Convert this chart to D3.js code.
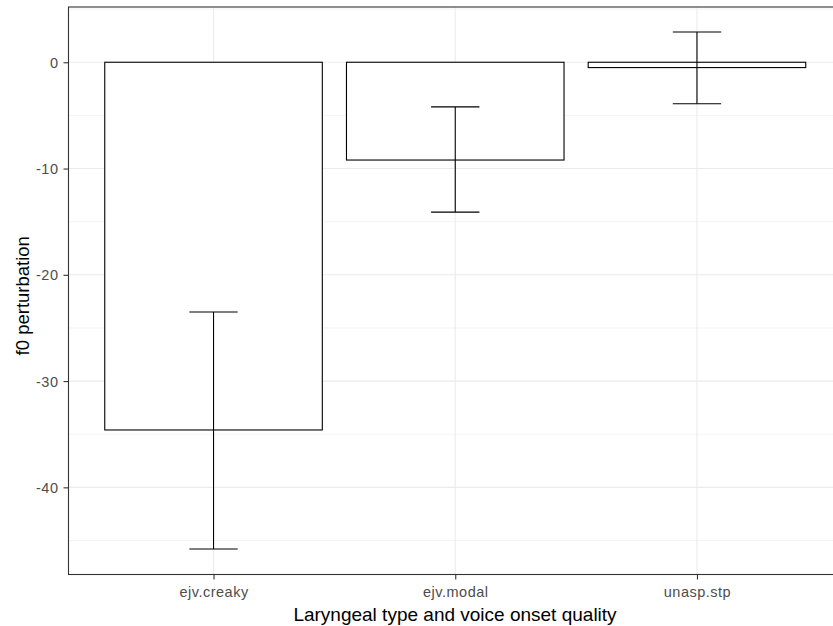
<!DOCTYPE html>
<html>
<head>
<meta charset="utf-8">
<script src="https://cdn.jsdelivr.net/npm/d3@7"></script>
<style>
  body { margin: 0; background: #fff; }
  svg { display: block; overflow: hidden; font-family: "Liberation Sans", Arial, sans-serif; }
</style>
</head>
<body>
<svg id="chart" width="833" height="626"></svg>
<script>
// categories and values
const categories = ["ejv.creaky", "ejv.modal", "unasp.stp"];
const means = [-34.6, -9.2, -0.5];
const lower = [-45.8, -14.1, -3.9];
const upper = [-23.5, -4.2, 2.85];
const yMajor = [0, -10, -20, -30, -40];
const yMinor = [5, -5, -15, -25, -35, -45];

const data = categories.map((c, i) => ({cat: c, mean: means[i], lo: lower[i], hi: upper[i]}));

const svg = d3.select("#chart");

// panel runs past the right edge of the picture (cropped)
const pLeft = 68.5, pRight = 842, pTop = 7, pBottom = 574.5;

const x = d3.scalePoint()
  .domain(categories)
  .range([pLeft, pRight])
  .padding(0.6);
const step = x.step();

const y = d3.scaleLinear()
  .domain([5.2, -48.2])
  .range([pTop, pBottom]);

// grid
const grid = svg.append("g");
grid.selectAll(".minor")
  .data(yMinor)
  .enter()
  .append("line")
  .attr("x1", pLeft).attr("x2", pRight)
  .attr("y1", d => y(d)).attr("y2", d => y(d))
  .style("stroke", "#ebebeb")
  .style("stroke-width", 0.6);
grid.selectAll(".major")
  .data(yMajor)
  .enter()
  .append("line")
  .attr("x1", pLeft).attr("x2", pRight)
  .attr("y1", d => y(d)).attr("y2", d => y(d))
  .style("stroke", "#ebebeb")
  .style("stroke-width", 1.1);
grid.selectAll(".vmajor")
  .data(categories)
  .enter()
  .append("line")
  .attr("x1", d => x(d)).attr("x2", d => x(d))
  .attr("y1", pTop).attr("y2", pBottom)
  .style("stroke", "#ebebeb")
  .style("stroke-width", 1.1);

// bars
const barW = step * 0.9;
svg.append("g").selectAll("rect")
  .data(data)
  .enter()
  .append("rect")
  .attr("x", d => x(d.cat) - barW / 2)
  .attr("width", barW)
  .attr("y", d => y(Math.max(0, d.mean)))
  .attr("height", d => Math.abs(y(d.mean) - y(0)))
  .style("fill", "white")
  .style("stroke", "#000")
  .style("stroke-width", 1.1);

// error bars
const errW = step * 0.2;
const err = svg.append("g");
err.selectAll(".v")
  .data(data)
  .enter()
  .append("line")
  .attr("x1", d => x(d.cat)).attr("x2", d => x(d.cat))
  .attr("y1", d => y(d.hi)).attr("y2", d => y(d.lo))
  .style("stroke", "#000").style("stroke-width", 1.1);
err.selectAll(".hi")
  .data(data)
  .enter()
  .append("line")
  .attr("x1", d => x(d.cat) - errW / 2).attr("x2", d => x(d.cat) + errW / 2)
  .attr("y1", d => y(d.hi)).attr("y2", d => y(d.hi))
  .style("stroke", "#000").style("stroke-width", 1.1);
err.selectAll(".lo")
  .data(data)
  .enter()
  .append("line")
  .attr("x1", d => x(d.cat) - errW / 2).attr("x2", d => x(d.cat) + errW / 2)
  .attr("y1", d => y(d.lo)).attr("y2", d => y(d.lo))
  .style("stroke", "#000").style("stroke-width", 1.1);

// panel border
svg.append("rect")
  .attr("x", pLeft).attr("y", pTop)
  .attr("width", pRight - pLeft).attr("height", pBottom - pTop)
  .style("fill", "none")
  .style("stroke", "#333333")
  .style("stroke-width", 1.1);

// Add Y axis
const yAxis = svg.append("g")
  .attr("transform", "translate(" + pLeft + ",0)")
  .call(d3.axisLeft(y).tickValues(yMajor).tickSize(5).tickPadding(5).tickFormat(d => String(d)));
yAxis.select(".domain").remove();
yAxis.selectAll("line").style("stroke", "#333333").style("stroke-width", 1.1);
yAxis.selectAll("text")
  .attr("dy", "0.35em")
  .style("fill", "#4d4d4d").style("font-size", "14.5px").style("letter-spacing", "0.5px");

// Add X axis
const xAxis = svg.append("g")
  .attr("transform", "translate(0," + pBottom + ")")
  .call(d3.axisBottom(x).tickSize(5));
xAxis.select(".domain").remove();
xAxis.selectAll("line").style("stroke", "#333333").style("stroke-width", 1.1);
xAxis.selectAll("text")
  .attr("y", 22.5).attr("dy", 0)
  .style("fill", "#4d4d4d").style("font-size", "14.5px").style("letter-spacing", "0.5px");

// titles
svg.append("text")
  .attr("x", 455)
  .attr("y", 621)
  .attr("text-anchor", "middle")
  .style("font-size", "19px")
  .style("fill", "#000")
  .text("Laryngeal type and voice onset quality");

svg.append("text")
  .attr("transform", "translate(29," + ((pTop + pBottom) / 2 + 5) + ") rotate(-90)")
  .attr("text-anchor", "middle")
  .style("font-size", "18.5px")
  .style("fill", "#000")
  .text("f0 perturbation");
</script>
</body>
</html>
